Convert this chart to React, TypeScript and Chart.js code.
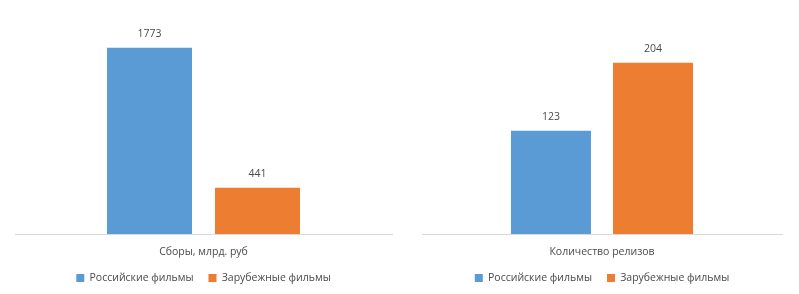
import React, { useEffect, useRef } from "react";
import { Chart, registerables } from "chart.js";

Chart.register(...registerables);

const seriesNames = ["Российские фильмы", "Зарубежные фильмы"];
const seriesColors = ["#5B9BD5", "#ED7D31"];

const leftCategory = ["Сборы, млрд. руб"];
const leftRussian = [1773];
const leftForeign = [441];
const leftMax = 2000;

const rightCategory = ["Количество релизов"];
const rightRussian = [123];
const rightForeign = [204];
const rightMax = 250;

const FONT = "'Open Sans', 'Noto Sans', sans-serif";
const FSIZE = 10.5;
const TEXT = "#4A4A4A";

const valueLabels = {
  id: "valueLabels",
  afterDatasetsDraw(chart: any) {
    const ctx = chart.ctx;
    ctx.save();
    ctx.font = `${FSIZE}px ${FONT}`;
    ctx.fillStyle = TEXT;
    ctx.textAlign = "center";
    ctx.textBaseline = "middle";
    chart.data.datasets.forEach((ds: any, i: number) => {
      const meta = chart.getDatasetMeta(i);
      meta.data.forEach((bar: any, j: number) => {
        ctx.fillText(String(ds.data[j]), bar.x, bar.y - 13.5);
      });
    });
    ctx.restore();
  },
};

function makeConfig(
  labels: string[],
  a: number[],
  b: number[],
  max: number,
  pad: { left: number; right: number },
  cp: number,
  bp: number
): any {
  return {
    type: "bar",
    data: {
      labels,
      datasets: [
        { label: seriesNames[0], data: a, backgroundColor: seriesColors[0], categoryPercentage: cp, barPercentage: bp },
        { label: seriesNames[1], data: b, backgroundColor: seriesColors[1], categoryPercentage: cp, barPercentage: bp },
      ],
    },
    options: {
      animation: false,
      responsive: false,
      maintainAspectRatio: false,
      layout: { padding: { top: 24, left: pad.left, right: pad.right, bottom: 0.75 } },
      plugins: {
        tooltip: { enabled: false },
        legend: {
          position: "bottom",
          labels: {
            boxWidth: 8,
            boxHeight: 8,
            padding: 15,
            color: TEXT,
            font: { family: FONT, size: FSIZE },
          },
        },
      },
      scales: {
        x: {
          grid: { display: false, drawTicks: false },
          border: { display: true, color: "#D9D9D9", width: 1 },
          ticks: { color: TEXT, font: { family: FONT, size: FSIZE }, padding: 12 },
          afterFit: (scale: any) => {
            scale.height = 23.75;
          },
        },
        y: {
          display: false,
          min: 0,
          max,
        },
      },
    },
    plugins: [valueLabels],
  };
}

function Panel(props: { config: any; left: number; width: number }) {
  const ref = useRef<HTMLCanvasElement>(null);
  useEffect(() => {
    const chart = new Chart(ref.current as HTMLCanvasElement, props.config);
    return () => chart.destroy();
  }, []);
  return (
    <canvas
      ref={ref}
      width={props.width}
      height={294}
      style={{ position: "absolute", left: props.left, top: 0, width: props.width, height: 294 }}
    />
  );
}

export default function App() {
  const leftCfg = makeConfig(leftCategory, leftRussian, leftForeign, leftMax, { left: 15, right: 8 }, 0.573, 0.787);
  const rightCfg = makeConfig(rightCategory, rightRussian, rightForeign, rightMax, { left: 22, right: 17 }, 0.567, 0.784);
  return (
    <div style={{ position: "absolute", left: 0, top: 0, width: 799, height: 294, background: "#fff" }}>
      <Panel config={leftCfg} left={0} width={400} />
      <Panel config={rightCfg} left={400} width={399} />
    </div>
  );
}
